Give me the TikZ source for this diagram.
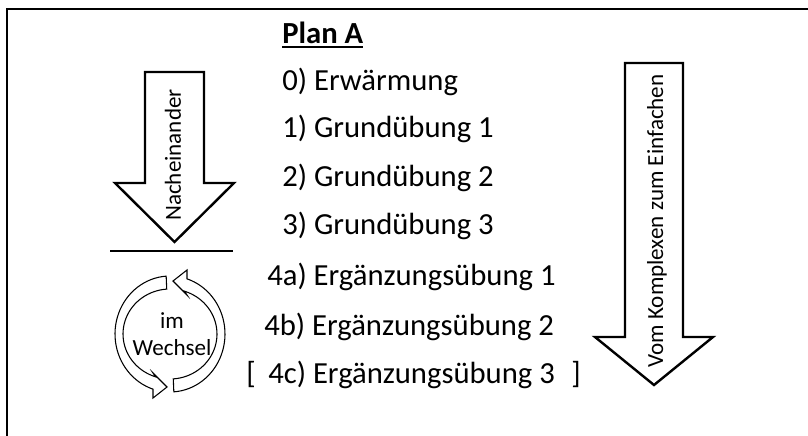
\documentclass[tikz,border=0pt]{standalone}
\usepackage{fontspec}
\setmainfont{Carlito}
\usetikzlibrary{calc}
\begin{document}
\begin{tikzpicture}[x=0.75pt,y=-0.75pt,
  txt/.style={inner sep=0pt, font=\fontsize{23}{27}\selectfont},
  small/.style={inner sep=0pt, font=\fontsize{17.3}{20}\selectfont},
  blockarrow/.style={draw=black, fill=white, line width=1.8pt, line join=miter},
  cyc/.style={draw=black, fill=white, line width=0.8pt, line join=miter}]
\useasboundingbox (0,0) rectangle (808,436);
\draw[line width=2pt] (7,436) -- (7,9) -- (808,9);

% left block arrow
\draw[blockarrow] (145,72) -- (204,72) -- (204,183) -- (234,183) -- (174.5,242) -- (115,183) -- (145,183) -- cycle;
% right block arrow
\draw[blockarrow] (625,63) -- (683,63) -- (683,337) -- (713,337) -- (654,385) -- (595,337) -- (625,337) -- cycle;

% separator
\draw[line width=0.8pt] (110,251) -- (233,251);

% cycle arrows
\draw[cyc] plot[domain=94:252, samples=40] ({170+55*cos(\x)},{334-58*sin(\x)}) -- (153,398) -- (167,387) -- (153,373) -- plot[domain=252:94, samples=40] ({170+47*cos(\x)},{334-45*sin(\x)}) -- cycle;
\begin{scope}[rotate around={180:(170,334)}]
\draw[cyc] plot[domain=94:252, samples=40] ({170+55*cos(\x)},{334-58*sin(\x)}) -- (153,398) -- (167,387) -- (153,373) -- plot[domain=252:94, samples=40] ({170+47*cos(\x)},{334-45*sin(\x)}) -- cycle;
\end{scope}

\node[inner sep=0pt, font=\fontsize{17.3}{20.5}\selectfont, align=center] (wech) at (172,334) {im\\Wechsel};

\node[small, rotate=90] (nach) at (173,155) {Nacheinander};
\node[small, rotate=90] (vom) at (657,221) {Vom Komplexen zum Einfachen};

\node[inner sep=0pt, anchor=base west, font={\fontsize{23}{27}\selectfont\bfseries}] (plan) at (282,43) {Plan A};
\draw[line width=1.5pt] ($(plan.base west)+(0,4)$) -- ($(plan.base east)+(0,4)$);

\node[txt, anchor=base west] (s0) at (282,90) {0) Erwärmung};
\node[txt, anchor=base west] (s1) at (282,137) {1) Grundübung 1};
\node[txt, anchor=base west] (s2) at (282,186) {2) Grundübung 2};
\node[txt, anchor=base west] (s3) at (282,234) {3) Grundübung 3};
\node[txt, anchor=base west] (s4a) at (267,285) {4a) Ergänzungsübung 1};
\node[txt, anchor=base west] (s4b) at (264,335) {4b) Ergänzungsübung 2};
\node[txt, anchor=base west] (s4c) at (268,383) {4c) Ergänzungsübung 3};
\node[txt, anchor=base west] (lb) at (246,383) {[};
\node[txt, anchor=base west] (rb) at (571,383) {]};
\end{tikzpicture}
\end{document}
